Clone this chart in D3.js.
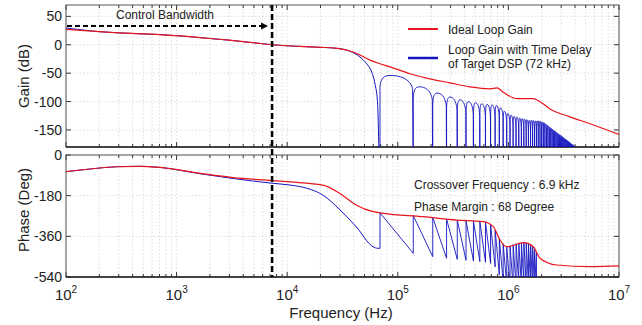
<!DOCTYPE html>
<html><head><meta charset="utf-8">
<script src="https://cdn.jsdelivr.net/npm/d3@7"></script>
<style>
body{margin:0;background:#fff;}
svg{display:block;font-family:"Liberation Sans",Arial,Helvetica,sans-serif;}
</style></head><body>
<svg id="c" width="642" height="325"></svg>
<script>
// ---------- data ----------
const freqTicks = [1e2, 1e3, 1e4, 1e5, 1e6, 1e7];
const freqTickExp = ["2", "3", "4", "5", "6", "7"];
const gainTicks = [50, 0, -50, -100, -150];
const phaseTicks = [0, -180, -360, -540];

// Ideal loop gain [Hz, dB]
const idealGain = [[100,27],[200,23],[300,21],[500,19],[700,18],[1000,16],[2000,11],[3000,8],[5000,3.5],[7300,0],
  [13100,-3],[19800,-4.5],[27000,-6],[37000,-11],[45500,-18],[56100,-27],[69000,-33.5],[85000,-39],[129000,-51],
  [195000,-60],[296000,-67],[449000,-74],[682000,-77.5],[789000,-76],[894000,-83],[1196000,-95],[1669000,-95],
  [1850000,-98],[2380000,-113],[3600000,-127],[5470000,-139],[10000000,-158]];

// Ideal loop phase [Hz, deg]
const idealPhase = [[100,-74],[165,-62],[287,-52],[467,-50],[708,-55],[1630,-81],[3240,-100],[7300,-113],
  [10600,-119],[21000,-133],[30000,-170],[42000,-221],[59700,-251],[74000,-258],[170000,-273],[341000,-288],
  [593000,-295],[730000,-317],[839000,-376],[966000,-406],[1366000,-388],[1680000,-406],[1930000,-457],
  [2730000,-487],[5470000,-494],[10000000,-491]];

// Delayed loop gain, main lobe before first notch [Hz, dB]
const delayedGainMain = [[100,29.5],[150,25.5],[200,23],[300,21],[500,19],[700,18],[1000,16],[2000,11],[3000,8],
  [5000,3.5],[7300,0],[13100,-3],[19800,-4.5],[27000,-6],[37000,-11.5],[45500,-21.5],[52400,-33.5],[58100,-48],
  [62200,-69],[65500,-100],[69000,-300]];

// Delayed loop phase before first notch [Hz, deg]
const delayedPhaseMain = [[100,-74],[165,-62],[287,-52],[467,-50],[708,-55],[1630,-83],[3240,-104],[7300,-125],
  [10600,-133],[15000,-147],[21000,-177],[30000,-243],[42000,-317],[59700,-406],[66000,-413],[69000,-413]];

// Notch frequencies of the delayed loop gain (kHz)
const notchKHz = [69,138,207,276,345,414,483,552,621,690,759,828,897,966,1035,1104,1173,1242,1311,1380,
  1449,1518,1587,1656,1725,1794,1863,1932,2001,2070,2139,2208,2277,2346,2415,2484,2553,2622,2691,2760,
  2829,2898,2967,3036,3105,3174,3243,3312,3381,3450,3519,3588,3657,3726,3795,3864,3933,4002,4071,4140];

// Peak level of each lobe between notches (dB)
const lobePeakDb = [-54,-74,-85,-92,-97,-100,-102,-104,-105,-106,
  -107,-111,-117,-121,-124,-126,-127.5,-129,-130,-131,
  -132,-133,-133,-133,-134,-134,-134,-135,-136,-137,
  -139,-141,-143,-145,-147,-149,-150.5,-152,-154,-155.5,
  -157,-158.5,-160,-161.5,-163,-164.5,-166,-167,-168.5,-170,
  -171,-172.5,-174,-175,-176,-177.5,-178.5,-180,-181];

// Phase sawtooth: value just after each notch jump, and just before next notch (deg)
const toothTopDeg = [-256,-268,-276,-283,-288,-291,-293,-294,-298,-308,-333,-370,-393,-406,-402,-397,-393,-390,
  -389,-388,-390,-393,-397,-404,-420,-430];
const toothBottomDeg = [-435,-450,-457,-462,-466,-469,-472,-475,-480,-495,-530,-560,-575,-585,-585,-580,-575,
  -572,-570,-570,-572,-575,-580,-590,-600];

const crossoverHz = 7300;

// ---------- layout ----------
const svg = d3.select("#c");
const L = 66, R = 619;
const gTop = 5, gBot = 147, pTop = 155, pBot = 277;
const x = d3.scaleLog().domain([1e2, 1e7]).range([L, R]);
const yG = d3.scaleLinear().domain([-180, 70]).range([gBot, gTop]);
const yP = d3.scaleLinear().domain([-540, 0]).range([pBot, pTop]);
const RED = "#e8161c", BLUE = "#1414c0";

const defs = svg.append("defs");
defs.append("clipPath").attr("id","clipG").append("rect").attr("x",L).attr("y",gTop).attr("width",R-L).attr("height",gBot-gTop);
defs.append("clipPath").attr("id","clipP").append("rect").attr("x",L).attr("y",pTop).attr("width",R-L).attr("height",pBot-pTop);

function panel(y, y0, y1, ticks) {
  const g = svg.append("g");
  const minor = x.ticks();
  g.selectAll(".vg").data(minor).enter().append("line")
    .attr("x1", d => x(d)).attr("x2", d => x(d)).attr("y1", y0).attr("y2", y1)
    .attr("stroke", "#d6d6d6").attr("stroke-width", 0.8).attr("stroke-dasharray", "1.5,2");
  g.selectAll(".hg").data(ticks).enter().append("line")
    .attr("x1", L).attr("x2", R).attr("y1", d => y(d)).attr("y2", d => y(d))
    .attr("stroke", "#d6d6d6").attr("stroke-width", 0.8).attr("stroke-dasharray", "1.5,2");
  minor.forEach(d => {
    const len = freqTicks.includes(d) ? 5 : 3;
    g.append("line").attr("x1", x(d)).attr("x2", x(d)).attr("y1", y1).attr("y2", y1 - len).attr("stroke", "#333");
    g.append("line").attr("x1", x(d)).attr("x2", x(d)).attr("y1", y0).attr("y2", y0 + len).attr("stroke", "#333");
  });
  ticks.forEach(d => {
    g.append("line").attr("x1", L).attr("x2", L + 5).attr("y1", y(d)).attr("y2", y(d)).attr("stroke", "#333");
    g.append("line").attr("x1", R).attr("x2", R - 5).attr("y1", y(d)).attr("y2", y(d)).attr("stroke", "#333");
    g.append("text").attr("x", L - 4).attr("y", y(d)).attr("dy", "0.36em").attr("text-anchor", "end")
      .attr("font-size", 14).attr("fill", "#222").text(d);
  });
  g.append("rect").attr("x", L).attr("y", y0).attr("width", R - L).attr("height", y1 - y0)
    .attr("fill", "none").attr("stroke", "#555").attr("stroke-width", 1);
  g.append("line").attr("x1", L).attr("x2", R).attr("y1", y1).attr("y2", y1).attr("stroke", "#222").attr("stroke-width", 1.3);
}
panel(yG, gTop, gBot, gainTicks);
panel(yP, pTop, pBot, phaseTicks);

// ---------- gain curves ----------
const gainG = svg.append("g").attr("clip-path", "url(#clipG)");
const lineG = d3.line().x(d => x(d[0])).y(d => yG(d[1])).curve(d3.curveMonotoneX);
gainG.append("path").attr("d", lineG(delayedGainMain)).attr("fill","none").attr("stroke",BLUE).attr("stroke-width",1);
const gp = d3.path();
const yBotG = yG(-260);
lobePeakDb.forEach((pk, i) => {
  const xa = x(notchKHz[i] * 1e3), xb = x(notchKHz[i + 1] * 1e3);
  const w = xb - xa, yp = yG(pk);
  const xm = xa + 0.3 * w;
  gp.moveTo(xa, yBotG);
  gp.lineTo(xa, yp + 12);
  gp.bezierCurveTo(xa + 0.01 * w, yp + 3, xa + 0.12 * w, yp, xm, yp);
  gp.bezierCurveTo(xa + 0.6 * w, yp, xb - 0.1 * w, yp + 3, xb - 0.02 * w, yp + 13);
  gp.lineTo(xb, yBotG);
});
gainG.append("path").attr("d", gp.toString()).attr("fill","none").attr("stroke",BLUE).attr("stroke-width",0.9);
gainG.append("path").attr("d", lineG(idealGain)).attr("fill","none").attr("stroke",RED).attr("stroke-width",1.2);

// ---------- phase curves ----------
const phaseG = svg.append("g").attr("clip-path", "url(#clipP)");
const lineP = d3.line().x(d => x(d[0])).y(d => yP(d[1])).curve(d3.curveMonotoneX);
phaseG.append("path").attr("d", lineP(delayedPhaseMain)).attr("fill","none").attr("stroke",BLUE).attr("stroke-width",1);
const teeth = [[notchKHz[0] * 1e3, delayedPhaseMain[delayedPhaseMain.length - 1][1]]];
toothTopDeg.forEach((top, i) => {
  teeth.push([notchKHz[i] * 1e3, top]);
  if (i < toothBottomDeg.length) teeth.push([notchKHz[i + 1] * 1e3, toothBottomDeg[i]]);
});
const lineT = d3.line().x(d => x(d[0])).y(d => yP(d[1]));
phaseG.append("path").attr("d", lineT(teeth)).attr("fill","none").attr("stroke",BLUE).attr("stroke-width",0.9);
phaseG.append("path").attr("d", lineP(idealPhase)).attr("fill","none").attr("stroke",RED).attr("stroke-width",1.2);

// ---------- x tick labels ----------
freqTicks.forEach((f, i) => {
  const t = svg.append("text").attr("x", x(f)).attr("y", 300).attr("text-anchor", "middle")
    .attr("font-size", 15).attr("fill", "#222");
  t.append("tspan").text("10");
  t.append("tspan").attr("dy", -7).attr("font-size", 10).text(freqTickExp[i]);
});

// ---------- axis labels ----------
svg.append("text").attr("x", 341).attr("y", 318).attr("text-anchor", "middle").attr("font-size", 15)
  .attr("fill", "#222").text("Frequency (Hz)");
svg.append("text").attr("transform", "translate(29,76) rotate(-90)").attr("text-anchor", "middle")
  .attr("font-size", 15).attr("fill", "#222").text("Gain (dB)");
svg.append("text").attr("transform", "translate(29,210) rotate(-90)").attr("text-anchor", "middle")
  .attr("font-size", 15).attr("fill", "#222").text("Phase (Deg)");

// ---------- crossover marker ----------
const xc = x(crossoverHz);
svg.append("line").attr("x1", xc).attr("x2", xc).attr("y1", gTop).attr("y2", pBot)
  .attr("stroke", "#000").attr("stroke-width", 2.5).attr("stroke-dasharray", "6,3");
svg.append("line").attr("x1", L + 1).attr("x2", xc - 9).attr("y1", 26).attr("y2", 26)
  .attr("stroke", "#000").attr("stroke-width", 1.8).attr("stroke-dasharray", "5,3");
svg.append("path").attr("d", `M${xc - 4},26 L${xc - 11},22.5 L${xc - 11},29.5 Z`).attr("fill", "#000");
svg.append("text").attr("x", 165).attr("y", 19).attr("text-anchor", "middle").attr("font-size", 12)
  .attr("fill", "#222").text("Control Bandwidth");

// ---------- legend ----------
svg.append("line").attr("x1", 408).attr("x2", 438).attr("y1", 29).attr("y2", 29).attr("stroke", RED).attr("stroke-width", 2);
svg.append("text").attr("x", 448).attr("y", 33.5).attr("font-size", 12).attr("fill", "#222").text("Ideal Loop Gain");
svg.append("line").attr("x1", 408).attr("x2", 438).attr("y1", 58).attr("y2", 58).attr("stroke", BLUE).attr("stroke-width", 2.5);
svg.append("text").attr("x", 448).attr("y", 54).attr("font-size", 12).attr("fill", "#222").text("Loop Gain with Time Delay");
svg.append("text").attr("x", 448).attr("y", 68).attr("font-size", 12).attr("fill", "#222").text("of Target DSP (72 kHz)");

// ---------- annotations ----------
svg.append("text").attr("x", 414).attr("y", 189).attr("font-size", 12).attr("fill", "#222").text("Crossover Frequency : 6.9 kHz");
svg.append("text").attr("x", 414).attr("y", 211).attr("font-size", 12).attr("fill", "#222").text("Phase Margin : 68 Degree");
</script>
</body></html>
